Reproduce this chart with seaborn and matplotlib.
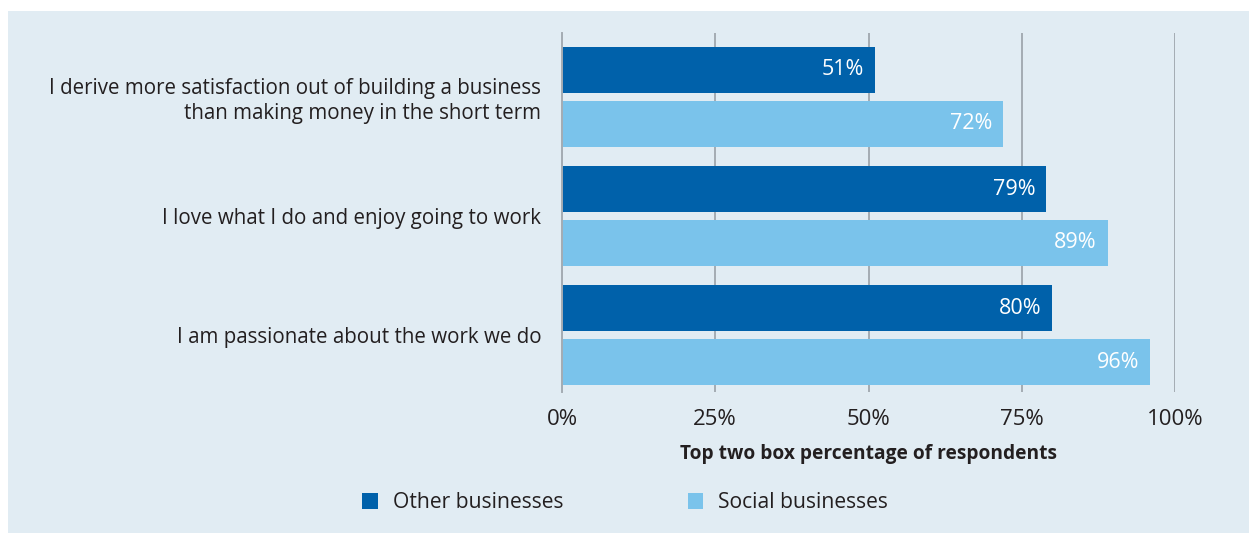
import matplotlib
matplotlib.use("Agg")
import matplotlib.pyplot as plt
from matplotlib.patches import Rectangle
import pandas as pd
import seaborn as sns

# Survey statements and the top-two-box share for each business type
statements = [
    "I derive more satisfaction out of building a business\nthan making money in the short term",
    "I love what I do and enjoy going to work",
    "I am passionate about the work we do",
]
groups = ["Other businesses", "Social businesses"]
other_pct = [51, 79, 80]
social_pct = [72, 89, 96]
tick_values = [0, 25, 50, 75, 100]
tick_labels = ["0%", "25%", "50%", "75%", "100%"]
x_title = "Top two box percentage of respondents"

DARK = "#0061aa"
LIGHT = "#7ac3eb"
PANEL = "#e1ecf3"
GRID = "#a4acb3"
TEXT = "#231f20"

df = pd.DataFrame({
    "statement": statements * 2,
    "group": [groups[0]] * len(statements) + [groups[1]] * len(statements),
    "pct": other_pct + social_pct,
})

sns.set_theme(style="white")
plt.rcParams["font.family"] = ["Open Sans", "DejaVu Sans"]

W, H = 1249, 533
fig = plt.figure(figsize=(W / 100, H / 100), dpi=100)
fig.patch.set_facecolor("white")
fig.add_artist(Rectangle((8 / W, 0), 1, (H - 11) / H, transform=fig.transFigure,
                         facecolor=PANEL, edgecolor="none", zorder=-10))

ax = fig.add_axes([562 / W, (H - 392) / H, 613 / W, 359 / H])
ax.set_facecolor("none")

sns.barplot(data=df, y="statement", x="pct", hue="group", orient="h",
            palette=[DARK, LIGHT], width=0.906, gap=0.148, saturation=1,
            linewidth=0, order=statements, hue_order=groups, legend=False, ax=ax)

ax.set_xlim(0, 100)
ax.set_ylim(2.478, -0.537)
ax.set_xticks(tick_values)
ax.set_xticklabels(tick_labels)
ax.tick_params(axis="x", length=0, pad=12, labelsize=16, labelcolor=TEXT)
ax.tick_params(axis="y", length=0, pad=15, labelsize=14.8, labelcolor=TEXT)
for lbl in ax.get_yticklabels():
    lbl.set_linespacing(1.25)
ax.set_ylabel("")
ax.set_xlabel(x_title, fontsize=13.8, fontweight="bold", color=TEXT, labelpad=10)

ax.grid(axis="x", color=GRID, linewidth=1.4)
ax.set_axisbelow(True)
for side in ["top", "right", "bottom"]:
    ax.spines[side].set_visible(False)
ax.spines["left"].set_color(GRID)
ax.spines["left"].set_linewidth(1.4)

# White value labels just inside the end of each bar
for container in ax.containers:
    for bar in container:
        w = bar.get_width()
        ax.annotate(f"{w:.0f}%", xy=(w, bar.get_y() + bar.get_height() / 2),
                    xytext=(-8, 0), textcoords="offset points",
                    ha="right", va="center", color="white", fontsize=15.5)

handles = [container.patches[0] for container in ax.containers]
fig.legend(handles, groups, loc="center", bbox_to_anchor=(625 / W, 1 - 503 / H),
           ncol=2, frameon=False, fontsize=15.2, handlelength=0.75, handleheight=0.75,
           handletextpad=0.7, columnspacing=5.9, labelcolor=TEXT)

fig.savefig("out.png", dpi=100, facecolor=fig.get_facecolor())
